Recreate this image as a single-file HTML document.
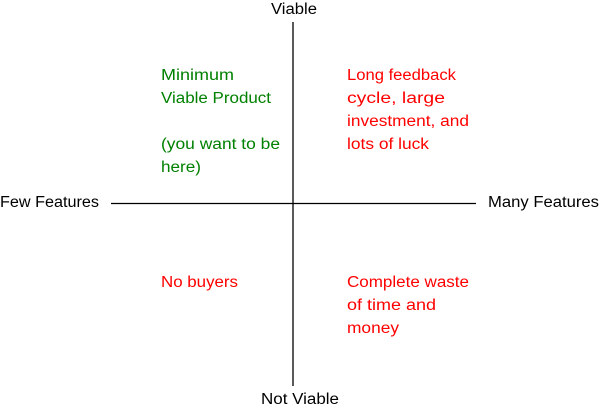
<!DOCTYPE html>
<html><head><style>html,body{margin:0;padding:0;background:#fff}svg{display:block}</style></head>
<body>
<svg width="600" height="405" xmlns="http://www.w3.org/2000/svg" font-family="Liberation Sans, sans-serif" font-size="15.5">
<line x1="293" y1="22" x2="293" y2="386" stroke="#000" stroke-width="1.3"/>
<line x1="111" y1="203.5" x2="476" y2="203.5" stroke="#000" stroke-width="1.3"/>
<g fill="#000">
<text x="271" y="14" textLength="46" lengthAdjust="spacingAndGlyphs">Viable</text>
<text x="261" y="404" textLength="78" lengthAdjust="spacingAndGlyphs">Not Viable</text>
<text x="0" y="207" textLength="99" lengthAdjust="spacingAndGlyphs">Few Features</text>
<text x="488" y="207" textLength="111" lengthAdjust="spacingAndGlyphs">Many Features</text>
</g>
<g fill="#008000">
<text x="161" y="80" textLength="73" lengthAdjust="spacingAndGlyphs">Minimum</text>
<text x="161" y="103" textLength="110" lengthAdjust="spacingAndGlyphs">Viable Product</text>
<text x="161" y="149" textLength="119" lengthAdjust="spacingAndGlyphs">(you want to be</text>
<text x="161" y="172" textLength="40" lengthAdjust="spacingAndGlyphs">here)</text>
</g>
<g fill="#ff0000">
<text x="347" y="80" textLength="109" lengthAdjust="spacingAndGlyphs">Long feedback</text>
<text x="347" y="103" textLength="98" lengthAdjust="spacingAndGlyphs">cycle, large</text>
<text x="347" y="126" textLength="122" lengthAdjust="spacingAndGlyphs">investment, and</text>
<text x="347" y="149" textLength="82" lengthAdjust="spacingAndGlyphs">lots of luck</text>
<text x="161" y="287" textLength="77" lengthAdjust="spacingAndGlyphs">No buyers</text>
<text x="347" y="287" textLength="122" lengthAdjust="spacingAndGlyphs">Complete waste</text>
<text x="347" y="310" textLength="89" lengthAdjust="spacingAndGlyphs">of time and</text>
<text x="347" y="333" textLength="52" lengthAdjust="spacingAndGlyphs">money</text>
</g>
</svg>
</body></html>
